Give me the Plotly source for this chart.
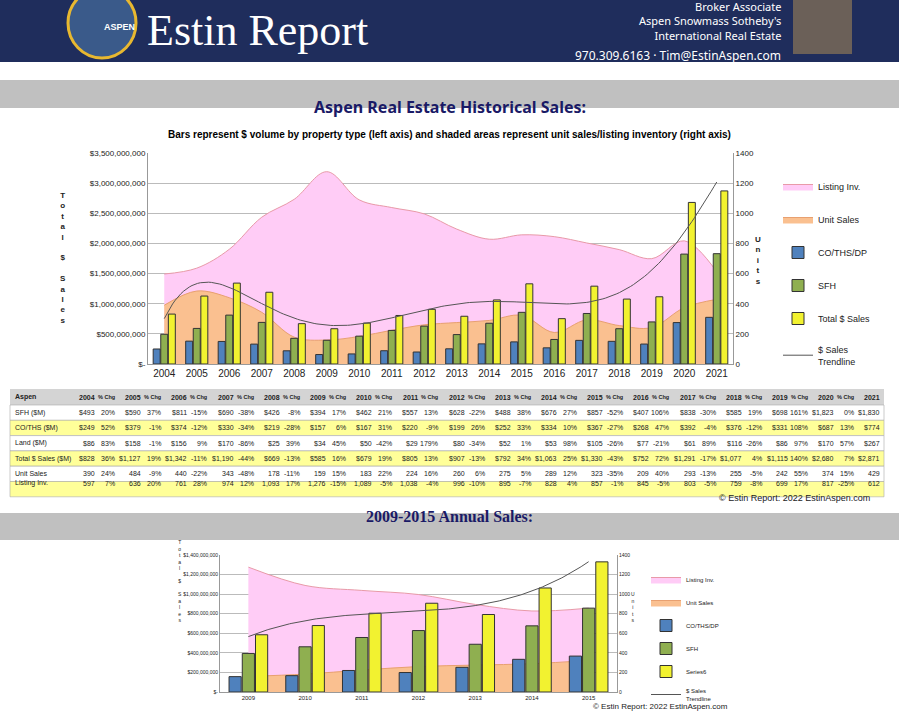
import numpy as np
import plotly.graph_objects as go

# ---- data ----
years = list(range(2004, 2022))
sfh = [493, 590, 811, 690, 426, 394, 462, 557, 628, 488, 676, 857, 407, 838, 585, 698, 1823, 1830]
condo = [249, 379, 374, 330, 219, 157, 167, 220, 199, 252, 334, 367, 268, 392, 376, 331, 687, 774]
land = [86, 158, 156, 170, 25, 34, 50, 29, 80, 52, 53, 105, 77, 61, 116, 86, 170, 267]
total = [828, 1127, 1342, 1190, 669, 585, 679, 805, 907, 792, 1063, 1330, 752, 1291, 1077, 1115, 2680, 2871]
units = [390, 484, 440, 343, 178, 159, 183, 224, 260, 275, 289, 323, 209, 293, 255, 242, 374, 429]
listings = [597, 636, 761, 974, 1093, 1276, 1089, 1038, 996, 895, 828, 857, 845, 803, 759, 699, 817, 612]

sfh_chg = ["20%", "37%", "-15%", "-38%", "-8%", "17%", "21%", "13%", "-22%", "38%", "27%", "-52%", "106%", "-30%", "19%", "161%", "0%"]
condo_chg = ["52%", "-1%", "-12%", "-34%", "-28%", "6%", "31%", "-9%", "26%", "33%", "10%", "-27%", "47%", "-4%", "-12%", "108%", "13%"]
land_chg = ["83%", "-1%", "9%", "-86%", "39%", "45%", "-42%", "179%", "-34%", "1%", "98%", "-26%", "-21%", "89%", "-26%", "97%", "57%"]
total_chg = ["36%", "19%", "-11%", "-44%", "-13%", "16%", "19%", "13%", "-13%", "34%", "25%", "-43%", "72%", "-17%", "4%", "140%", "7%"]
units_chg = ["24%", "-9%", "-22%", "-48%", "-11%", "15%", "22%", "16%", "6%", "5%", "12%", "-35%", "40%", "-13%", "-5%", "55%", "15%"]
list_chg = ["7%", "20%", "28%", "12%", "17%", "-15%", "-5%", "-4%", "-10%", "-7%", "4%", "-1%", "-5%", "-5%", "-8%", "17%", "-25%"]

row_labels = ["SFH ($M)", "CO/THS ($M)", "Land ($M)", "Total $ Sales ($M)", "Unit Sales", "Listing Inv."]

NAVY = "#1f2d5c"
BLUE = "#4f81bd"
GREEN = "#8faf50"
YELLOW = "#f2f230"
PINK = "#ffccf6"
ORANGE = "#fac090"


def py(px):
    return 1 - px / 720


def px_x(px):
    return px / 899


fig = go.Figure()


def add_chart(yrs, co, sf, tot, un, li, xa, ya_area, ya_bar, legend, last_name, deg):
    fig.add_trace(go.Scatter(x=yrs, y=li, mode="lines", line=dict(color="#e89aa8", width=1, shape="spline"),
                             fill="tozeroy", fillcolor=PINK, name="Listing Inv.", xaxis=xa, yaxis=ya_area,
                             legend=legend, legendgroup="a" + legend))
    fig.add_trace(go.Scatter(x=yrs, y=un, mode="lines", line=dict(color="#e8a070", width=1, shape="spline"),
                             fill="tozeroy", fillcolor=ORANGE, name="Unit Sales", xaxis=xa, yaxis=ya_area,
                             legend=legend, legendgroup="b" + legend))
    for vals, col, nm, g in [(co, BLUE, "CO/THS/DP", "c"), (sf, GREEN, "SFH", "d"), (tot, YELLOW, last_name, "e")]:
        fig.add_trace(go.Bar(x=yrs, y=[v * 1e6 for v in vals], marker=dict(color=col, line=dict(color="#333333", width=1)),
                             name=nm, xaxis=xa, yaxis=ya_bar, legend=legend, legendgroup=g + legend))
    # polynomial trendline of total $ sales
    t = np.arange(len(yrs))
    coef = np.polyfit(t, np.array(tot) * 1e6, deg)
    tt = np.linspace(0, len(yrs) - 1, 200)
    fig.add_trace(go.Scatter(x=yrs[0] + tt, y=np.polyval(coef, tt), mode="lines",
                             line=dict(color="#555555", width=1), name="$ Sales<br>Trendline",
                             xaxis=xa, yaxis=ya_bar, legend=legend, legendgroup="f" + legend))


add_chart(years, condo, sfh, total, units, listings, "x", "y", "y2", "legend", "Total $ Sales", 6)
i0, i1 = years.index(2009), years.index(2015) + 1
add_chart(years[i0:i1], condo[i0:i1], sfh[i0:i1], total[i0:i1], units[i0:i1], listings[i0:i1],
          "x2", "y3", "y4", "legend2", "Series6", 3)

axfont = dict(family="Arial", size=8, color="#222")
fig.update_layout(
    width=899, height=720, margin=dict(l=0, r=0, t=0, b=0, autoexpand=False),
    paper_bgcolor="white", plot_bgcolor="rgba(0,0,0,0)",
    barmode="group", bargap=0.3, bargroupgap=0.08,
    font=dict(family="Arial", color="#222"),
    xaxis=dict(domain=[px_x(148), px_x(733)], anchor="y", range=[2003.5, 2021.5], tickvals=years,
               tickfont=dict(size=10), showgrid=False, showline=True, linecolor="#999", ticks=""),
    yaxis=dict(domain=[py(364), py(153)], side="right", anchor="x", range=[0, 1400], dtick=200,
               tickfont=axfont, gridcolor="#bbbbbb", showline=True, linecolor="#999", zeroline=False),
    yaxis2=dict(overlaying="y", side="left", anchor="x", range=[0, 3.5e9], dtick=5e8,
                tickformat="$,.0f", tickfont=axfont, showgrid=False, showline=True, linecolor="#999",
                zeroline=False, labelalias={"$0": "$-"}),
    xaxis2=dict(domain=[px_x(220), px_x(617)], anchor="y3", range=[2008.5, 2015.5],
                tickvals=years[i0:i1], tickfont=dict(size=6), showgrid=False, showline=True, linecolor="#999"),
    yaxis3=dict(domain=[py(692), py(555)], side="right", anchor="x2", range=[0, 1400], dtick=200,
                tickfont=dict(size=5), gridcolor="#bbbbbb", showline=True, linecolor="#999", zeroline=False),
    yaxis4=dict(overlaying="y3", side="left", anchor="x2", range=[0, 1.4e9], dtick=2e8,
                tickformat="$,.0f", tickfont=dict(size=5), showgrid=False, showline=True, linecolor="#999",
                zeroline=False, labelalias={"$0": "$-"}),
    legend=dict(x=px_x(778), y=py(172), xanchor="left", yanchor="top", tracegroupgap=14,
                font=dict(size=9), bgcolor="rgba(0,0,0,0)", itemwidth=30),
    legend2=dict(x=px_x(646), y=py(565), xanchor="left", yanchor="top", tracegroupgap=4,
                 font=dict(size=6), bgcolor="rgba(0,0,0,0)", itemwidth=30),
)

# ---- header, bands ----
shapes = [
    dict(type="rect", xref="paper", yref="paper", x0=0, x1=1, y0=py(62), y1=1, fillcolor=NAVY, line_width=0, layer="below"),
    dict(type="rect", xref="paper", yref="paper", x0=0, x1=1, y0=py(108), y1=py(80), fillcolor="#c0c0c0", line_width=0, layer="below"),
    dict(type="rect", xref="paper", yref="paper", x0=0, x1=1, y0=py(540), y1=py(513), fillcolor="#c0c0c0", line_width=0, layer="below"),
    dict(type="circle", xref="paper", yref="paper", x0=px_x(68), x1=px_x(136), y0=py(58), y1=py(-12),
         fillcolor="#3a5a8a", line=dict(color="#e8b830", width=3)),
    dict(type="rect", xref="paper", yref="paper", x0=px_x(793), x1=px_x(852), y0=py(54), y1=py(0),
         fillcolor="#6b6058", line_width=0),
]
ann = [
    dict(text="<b>ASPEN</b>", x=px_x(102), y=py(20), font=dict(size=9, color="white")),
    dict(text="Estin Report", x=px_x(145), y=py(4), xanchor="left", yanchor="top",
         font=dict(size=44, color="white", family="Liberation Serif")),
    dict(text="Broker Associate<br>Aspen Snowmass Sotheby's<br>International Real Estate", x=px_x(783), y=py(-3),
         xanchor="right", yanchor="top", align="right", font=dict(size=11, color="white", family="Noto Sans")),
    dict(text="970.309.6163 · Tim@EstinAspen.com", x=px_x(783), y=py(45), xanchor="right",
         font=dict(size=12, color="white", family="Noto Sans")),
    dict(text="<b>Aspen Real Estate Historical Sales:</b>", x=0.5, y=py(94), font=dict(size=16, color="#1a1a66", family="Noto Sans")),
    dict(text="<b>Bars represent $ volume by property type (left axis) and shaded areas represent unit sales/listing inventory (right axis)</b>",
         x=0.5, y=py(127), font=dict(size=10, color="black")),
    dict(text="<b>" + "<br>".join("Total $ Sales").replace("<br> <br>", "<br><br>") + "</b>", x=px_x(58), y=py(258),
         font=dict(size=8), align="center"),
    dict(text="<b>" + "<br>".join("Units") + "</b>", x=px_x(763), y=py(260), font=dict(size=8), align="center"),
    dict(text="© Estin Report: 2022 EstinAspen.com", x=px_x(872), y=py(505), xanchor="right", font=dict(size=9)),
    dict(text="<b>2009-2015 Annual Sales:</b>", x=0.5, y=py(527), font=dict(size=16, color="#1a1a66", family="Liberation Serif")),
    dict(text="<br>".join("Total $ Sales").replace("<br> <br>", "<br><br>"), x=px_x(176), y=py(625), font=dict(size=5), align="center"),
    dict(text="<br>".join("Units"), x=px_x(637), y=py(625), font=dict(size=5), align="center"),
    dict(text="© Estin Report: 2022 EstinAspen.com", x=px_x(730), y=py(713), xanchor="right", font=dict(size=8)),
]

# ---- table drawn as cells ----
def fmt_money(v):
    return f"${v:,}"


rows = [
    (sfh, sfh_chg, fmt_money), (condo, condo_chg, fmt_money), (land, land_chg, fmt_money),
    (total, total_chg, fmt_money), (units, units_chg, lambda v: f"{v:,}"), (listings, list_chg, lambda v: f"{v:,}"),
]
tbl_top, head_h, row_h = 389, 16, 15.3
shapes.append(dict(type="rect", xref="paper", yref="paper", x0=px_x(10), x1=px_x(884),
                   y0=py(tbl_top + head_h), y1=py(tbl_top), fillcolor="#d4d4d4", line_width=0, layer="below"))
for r in range(len(rows)):
    top = tbl_top + head_h + r * row_h
    shapes.append(dict(type="rect", xref="paper", yref="paper", x0=px_x(10), x1=px_x(884),
                       y0=py(top + row_h), y1=py(top), fillcolor="#ffff99" if r % 2 else "white",
                       line=dict(color="#aaaaaa", width=0.6), layer="below"))


def cell(text, xr, yc, size=7, bold=False, anchor="right"):
    ann.append(dict(text=f"<b>{text}</b>" if bold else text, x=px_x(xr), y=py(yc), xanchor=anchor,
                    font=dict(size=size, color="#222")))


head_y = tbl_top + head_h / 2
cell("Aspen", 13, head_y, bold=True, anchor="left")
for k, yr in enumerate(years):
    xr = 97 + k * 46.2
    cell(str(yr), xr, head_y, bold=True)
    if k < len(years) - 1:
        cell("% Chg", xr + 20, head_y, size=5.5, bold=True)
for r, (vals, chg, f) in enumerate(rows):
    yc = tbl_top + head_h + r * row_h + row_h / 2
    cell(row_labels[r], 13, yc, anchor="left")
    for k in range(len(years)):
        xr = 97 + k * 46.2
        cell(f(vals[k]), xr, yc)
        if k < len(years) - 1:
            cell(chg[k], xr + 20, yc)

for a in ann:
    a.update(xref="paper", yref="paper", showarrow=False)
fig.update_layout(shapes=shapes, annotations=ann)

fig.write_html("out.html", post_script="document.body.style.margin='0';",
               config={"displayModeBar": False})
